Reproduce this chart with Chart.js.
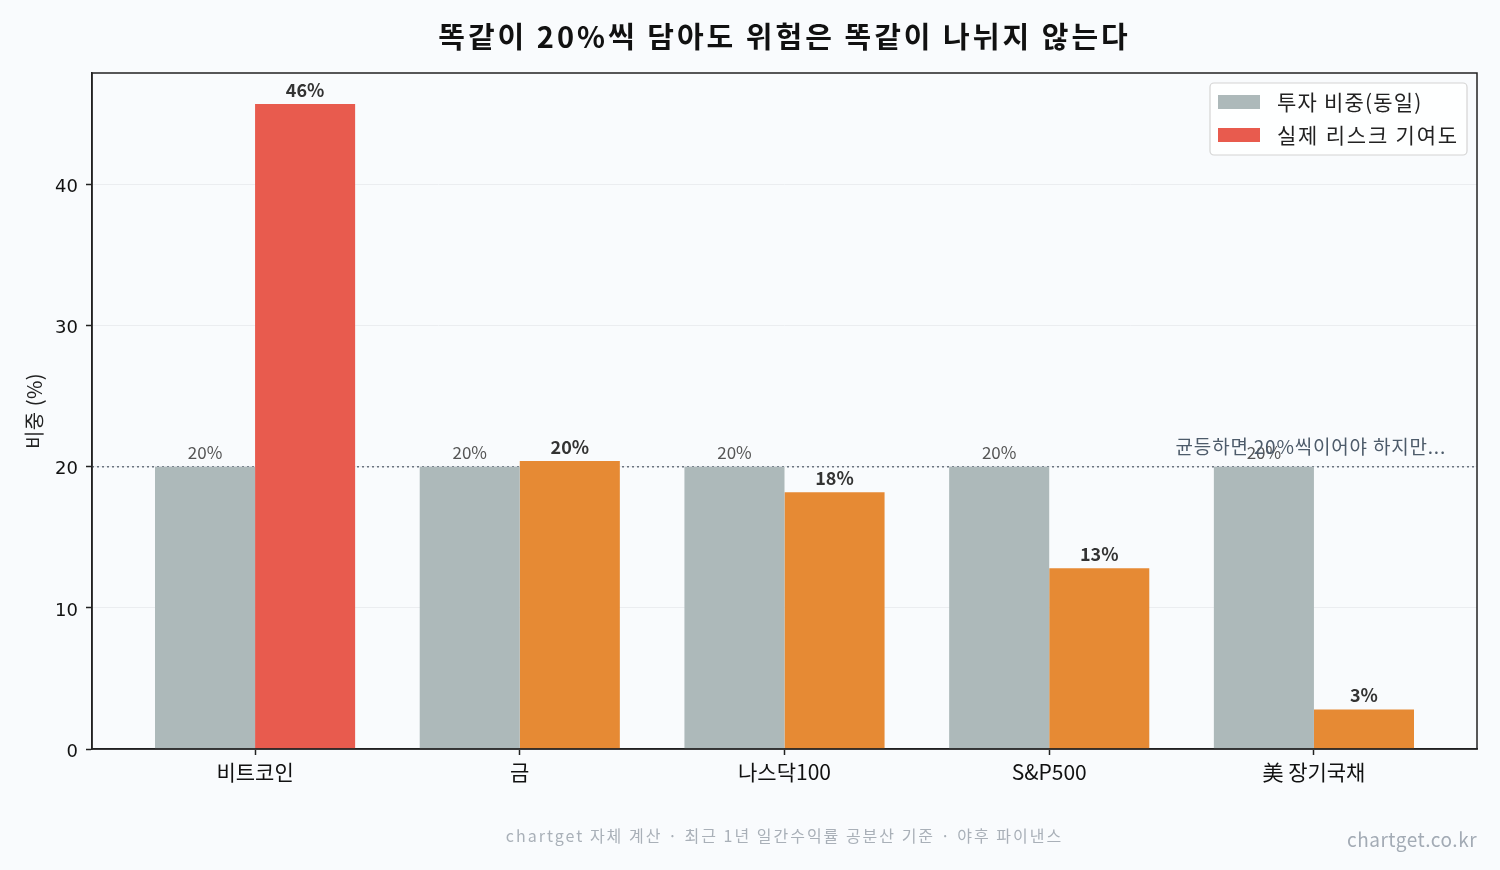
<!DOCTYPE html>
<html>
<head>
<meta charset="utf-8">
<script src="https://cdn.jsdelivr.net/npm/chart.js@4"></script>
<style>
  html, body { margin: 0; padding: 0; background: #f9fbfd; }
  #wrap { width: 1500px; height: 870px; position: relative; }
</style>
</head>
<body>
<div id="wrap"><canvas id="chart" width="1500" height="870"></canvas></div>
<script>
const categories = ['비트코인', '금', '나스닥100', 'S&P500', '美 장기국채'];
const weightValues = [20, 20, 20, 20, 20];
const riskValues = [45.7, 20.4, 18.2, 12.8, 2.8];
const riskLabels = ['46%', '20%', '18%', '13%', '3%'];
const weightLabels = ['20%', '20%', '20%', '20%', '20%'];
const yTicks = [0, 10, 20, 30, 40];

const FONT = '"Noto Sans CJK KR", "Noto Sans", sans-serif';
const NUMFONT = '"DejaVu Sans", sans-serif';
const GREY = '#adb9ba';
const RED = '#e85b4e';
const ORANGE = '#e68a34';

const riskColors = riskValues.map((v, i) => (i === 0 ? RED : ORANGE));

// title, footer, legend, reference line, value labels
const extras = {
  id: 'extras',
  beforeDatasetsDraw(chart) {
    const { ctx, chartArea, scales } = chart;
    const y20 = scales.y.getPixelForValue(20);
    ctx.save();
    ctx.strokeStyle = '#6b7480';
    ctx.lineWidth = 1.5;
    ctx.setLineDash([2, 3]);
    ctx.beginPath();
    ctx.moveTo(chartArea.left, y20);
    ctx.lineTo(chartArea.right, y20);
    ctx.stroke();
    ctx.restore();
  },
  afterDatasetsDraw(chart) {
    const { ctx, chartArea, scales } = chart;
    ctx.save();

    // value labels
    ctx.textAlign = 'center';
    ctx.textBaseline = 'bottom';
    chart.getDatasetMeta(0).data.forEach((bar, i) => {
      ctx.font = '17px ' + FONT;
      ctx.fillStyle = '#555';
      ctx.fillText(weightLabels[i], bar.x, bar.y - 6);
    });
    chart.getDatasetMeta(1).data.forEach((bar, i) => {
      ctx.font = 'bold 18px ' + FONT;
      ctx.fillStyle = '#333';
      ctx.fillText(riskLabels[i], bar.x, bar.y - 5);
    });

    // annotation
    const y20 = scales.y.getPixelForValue(20);
    ctx.font = '19px ' + FONT;
    ctx.letterSpacing = '0.8px';
    ctx.fillStyle = '#4d5b6a';
    ctx.textAlign = 'right';
    ctx.textBaseline = 'middle';
    ctx.fillText('균등하면 20%씩이어야 하지만...', chartArea.right - 31, y20 - 20);

    // frame
    ctx.strokeStyle = '#222';
    ctx.lineWidth = 1.5;
    ctx.strokeRect(chartArea.left, chartArea.top, chartArea.right - chartArea.left, chartArea.bottom - chartArea.top);

    // legend
    const lx = 1210, ly = 83, lw = 257, lh = 72;
    ctx.fillStyle = 'rgba(255,255,255,0.85)';
    ctx.strokeStyle = '#d4d4d4';
    ctx.lineWidth = 1.2;
    ctx.beginPath();
    ctx.roundRect(lx, ly, lw, lh, 4);
    ctx.fill();
    ctx.stroke();
    const items = [[GREY, '투자 비중(동일)'], [RED, '실제 리스크 기여도']];
    ctx.font = '21px ' + FONT;
    ctx.textAlign = 'left';
    ctx.textBaseline = 'middle';
    items.forEach(([c, t], i) => {
      const cy = ly + 19 + i * 33;
      ctx.letterSpacing = i === 0 ? '1.2px' : '1.8px';
      ctx.fillStyle = c;
      ctx.fillRect(lx + 8, cy - 7, 42, 14);
      ctx.fillStyle = '#222';
      ctx.fillText(t, lx + 67, cy);
    });

    // y axis title
    ctx.save();
    ctx.translate(34, (chartArea.top + chartArea.bottom) / 2);
    ctx.rotate(-Math.PI / 2);
    ctx.textAlign = 'center';
    ctx.font = '20px ' + FONT;
    ctx.letterSpacing = '0.5px';
    ctx.fillStyle = '#222';
    ctx.fillText('비중 (%)', 0, 0);
    ctx.restore();

    // title
    const cx = (chartArea.left + chartArea.right) / 2;
    ctx.textAlign = 'center';
    ctx.font = 'bold 29px ' + FONT;
    ctx.letterSpacing = '3px';
    ctx.fillStyle = '#111';
    ctx.fillText('똑같이 20%씩 담아도 위험은 똑같이 나뉘지 않는다', cx, 37);

    // footer
    ctx.font = '16px ' + FONT;
    ctx.letterSpacing = '2px';
    ctx.fillStyle = '#a9b0b8';
    ctx.fillText('chartget 자체 계산 · 최근 1년 일간수익률 공분산 기준 · 야후 파이낸스', cx, 836);
    ctx.font = '19px ' + FONT;
    ctx.letterSpacing = '0.5px';
    ctx.fillStyle = '#a3abb5';
    ctx.textAlign = 'right';
    ctx.fillText('chartget.co.kr', chartArea.right, 840);

    ctx.restore();
  }
};

new Chart(document.getElementById('chart'), {
  type: 'bar',
  data: {
    datasets: [
      {
        label: '투자 비중(동일)',
        data: weightValues.map((v, i) => ({ x: i, y: v })),
        backgroundColor: GREY
      },
      {
        label: '실제 리스크 기여도',
        data: riskValues.map((v, i) => ({ x: i, y: v })),
        backgroundColor: riskColors
      }
    ]
  },
  options: {
    responsive: false,
    animation: false,
    layout: { padding: { top: 73, right: 23, left: 0, bottom: 0 } },
    datasets: { bar: { categoryPercentage: 0.756, barPercentage: 1.0 } },
    plugins: {
      legend: { display: false },
      tooltip: { enabled: false }
    },
    scales: {
      x: {
        type: 'linear',
        min: -0.616,
        max: 4.616,
        offset: false,
        afterFit(axis) { axis.height = 121; },
        afterBuildTicks(axis) { axis.ticks = categories.map((c, i) => ({ value: i })); },
        ticks: {
          autoSkip: false,
          maxRotation: 0,
          padding: 4,
          color: '#111',
          font: { family: FONT, size: 21 },
          callback: (v) => categories[v] ?? ''
        },
        grid: { display: true, offset: false, drawOnChartArea: false, tickLength: 6, tickColor: '#222', tickWidth: 1.5 },
        border: { display: true, color: '#222', width: 1.5 }
      },
      y: {
        min: 0,
        max: 47.9,
        afterFit(axis) { axis.width = 92; },
        afterBuildTicks(axis) { axis.ticks = yTicks.map(v => ({ value: v })); },
        ticks: {
          padding: 8,
          labelOffset: 3,
          color: '#111',
          font: { family: NUMFONT, size: 18 }
        },
        grid: { color: '#ebedf0', lineWidth: 1, tickLength: 6, tickColor: '#222', tickWidth: 1.5 },
        border: { display: true, color: '#222', width: 1.5 }
      }
    }
  },
  plugins: [extras]
});
</script>
</body>
</html>
